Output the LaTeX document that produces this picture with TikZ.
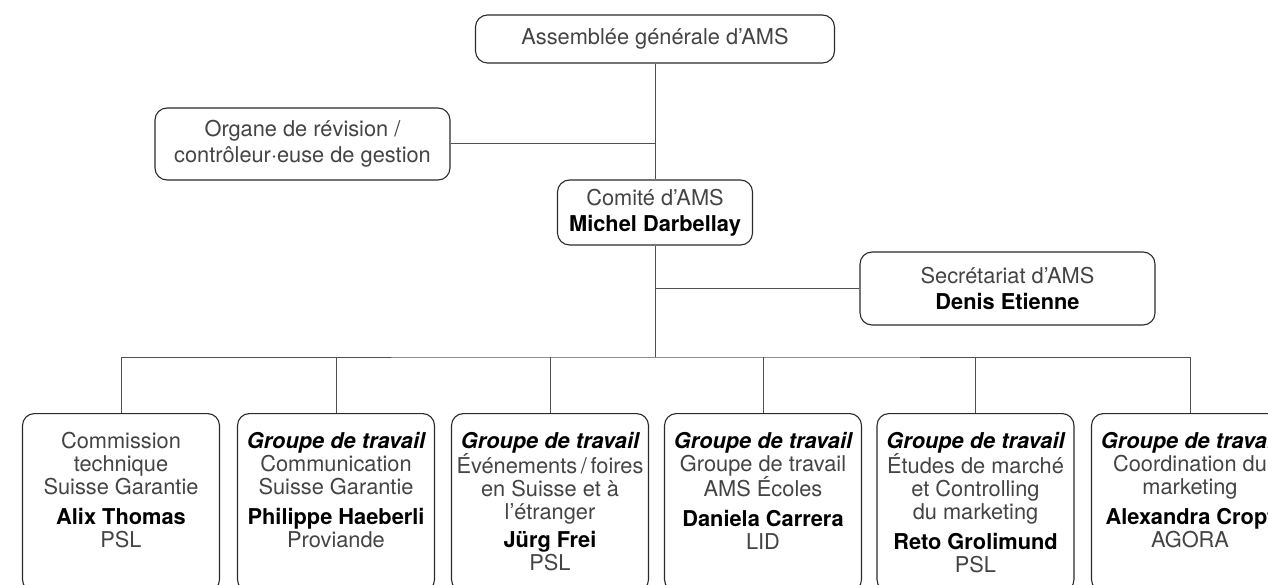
\documentclass[tikz,border=0pt]{standalone}
\usepackage{fontspec}
\setmainfont{TeX Gyre Heros}
\definecolor{linec}{HTML}{505050}
\definecolor{boxc}{HTML}{2A2A2A}
\definecolor{txt}{HTML}{444444}
\newcommand{\nm}[1]{\leavevmode{\color{black}\bfseries #1}}
\newcommand{\gtr}{\leavevmode{\color{black}\bfseries\itshape Groupe de travail}}
\newcommand{\gcontent}[1]{\parbox[t][178pt][t]{197pt}{\parskip=0pt\centering\fontsize{21.8}{23}\selectfont\vspace*{18.3pt}#1}}
\tikzset{
  box/.style={draw=boxc, line width=1.1pt, rounded corners=12pt, inner sep=0pt, align=center, text=txt, fill=white,
    font=\fontsize{21.8}{26}\selectfont},
  gbox/.style={draw=boxc, line width=1.1pt, rounded corners=12pt, inner sep=0pt, text=txt, fill=white, anchor=north},
  conn/.style={draw=linec, line width=1pt}
}
\begin{document}
\begin{tikzpicture}[x=1pt,y=-1pt]
\useasboundingbox (0,0) rectangle (1268,585);
\clip (0,0) rectangle (1268,585);

\node[box, minimum width=359pt, minimum height=48pt] (ag) at (655,39) {Assemblée générale d’AMS};
\node[box, minimum width=295pt, minimum height=72pt] (org) at (302.5,144) {Organe de révision /\\contrôleur·euse de gestion};
\node[box, minimum width=195pt, minimum height=65pt] (com) at (655,212.5) {Comité d’AMS\\\nm{Michel Darbellay}};
\node[box, minimum width=295pt, minimum height=73pt] (sec) at (1007.5,288.5) {Secrétariat d’AMS\\\nm{Denis Etienne}};

\coordinate (bus) at (655,357);

\node[gbox] (g1) at (121,413) {\gcontent{Commission\\technique\\Suisse Garantie\par\vspace{7pt}\nm{Alix Thomas}\\PSL}};
\node[gbox] (g2) at (336,413) {\gcontent{\gtr\\Communication\\Suisse Garantie\par\vspace{7pt}\nm{Philippe Haeberli}\\Proviande}};
\node[gbox] (g3) at (550,413) {\gcontent{\gtr\\Événements\,/\,foires\\en Suisse et à\\l’étranger\par\vspace{5pt}\nm{Jürg Frei}\\PSL}};
\node[gbox] (g4) at (763,413) {\gcontent{\gtr\\Groupe de travail\\AMS Écoles\par\vspace{7pt}\nm{Daniela Carrera}\\LID}};
\node[gbox] (g5) at (975.5,413) {\gcontent{\gtr\\Études de marché\\et Controlling\\du marketing\par\vspace{7pt}\nm{Reto Grolimund}\\PSL}};
\node[gbox] (g6) at (1190,413) {\gcontent{\gtr\\Coordination du\\marketing\par\vspace{7pt}\nm{Alexandra Cropt}\\AGORA}};

\draw[conn] (ag.south) -- (com.north);
\draw[conn] (org.east) -- (org.east -| ag.south);
\draw[conn] (com.south) -- (bus);
\draw[conn] (sec.west -| com.south) -- (sec.west);
\draw[conn] (g1.north) |- (bus) -| (g6.north);
\foreach \g in {g2,g3,g4,g5}{
  \draw[conn] (\g.north) -- (\g.north |- bus);
}
\end{tikzpicture}
\end{document}
